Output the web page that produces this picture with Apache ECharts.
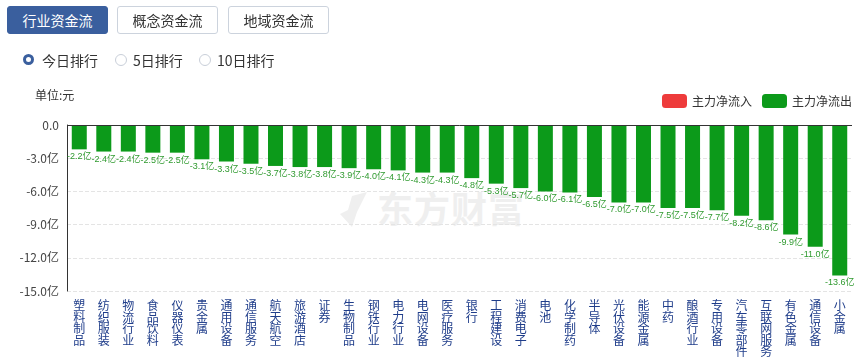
<!DOCTYPE html>
<html>
<head>
<meta charset="utf-8">
<script src="https://cdn.jsdelivr.net/npm/echarts@6/dist/echarts.min.js"></script>
<style>
  html,body{margin:0;padding:0;background:#fff;}
  body{width:866px;height:364px;position:relative;overflow:hidden;font-family:"Noto Sans CJK SC","Microsoft YaHei",sans-serif;}
  #wm{position:absolute;left:377px;top:185px;font-size:36px;line-height:44px;font-weight:bold;color:#efefef;white-space:nowrap;letter-spacing:1px;}
  #chart{position:absolute;left:0;top:0;width:866px;height:364px;}
  .btn{position:absolute;top:6px;height:26px;width:99px;border:1px solid #ccd3dd;border-radius:3px;font-size:14px;line-height:26px;text-align:center;color:#333;background:#fff;box-sizing:content-box;}
  .btn.on{background:#3a5f9e;border-color:#3a5f9e;color:#fff;}
  .radio{position:absolute;top:52px;font-size:14px;line-height:16px;color:#333;}
  .circ{position:absolute;width:10px;height:10px;border-radius:50%;border:1px solid #c8ced8;background:#fff;top:2px;}
  .circ.on{border:3.5px solid #3a5f9e;width:5px;height:5px;}
</style>
</head>
<body>
<div id="wm">东方财富</div>
<div id="chart"></div>
<div class="btn on" style="left:7px;">行业资金流</div>
<div class="btn" style="left:117px;">概念资金流</div>
<div class="btn" style="left:228px;">地域资金流</div>
<div class="radio" style="left:23px;"><span class="circ on" style="left:0;"></span><span style="position:absolute;left:19px;white-space:nowrap;">今日排行</span></div>
<div class="radio" style="left:115px;"><span class="circ" style="left:0;"></span><span style="position:absolute;left:18px;white-space:nowrap;">5日排行</span></div>
<div class="radio" style="left:199px;"><span class="circ" style="left:0;"></span><span style="position:absolute;left:18px;white-space:nowrap;">10日排行</span></div>
<script>
const categories = ['塑料制品','纺织服装','物流行业','食品饮料','仪器仪表','贵金属','通用设备','通信服务','航天航空','旅游酒店','证券','生物制品','钢铁行业','电力行业','电网设备','医疗服务','银行','工程建设','消费电子','电池','化学制药','半导体','光伏设备','能源金属','中药','酿酒行业','专用设备','汽车零部件','互联网服务','有色金属','通信设备','小金属'];
const outflow = [-2.2,-2.4,-2.4,-2.5,-2.5,-3.1,-3.3,-3.5,-3.7,-3.8,-3.8,-3.9,-4.0,-4.1,-4.3,-4.3,-4.8,-5.3,-5.7,-6.0,-6.1,-6.5,-7.0,-7.0,-7.5,-7.5,-7.7,-8.2,-8.6,-9.9,-11.0,-13.6];
const inflow = [];
const yTicks = { min: -15, max: 0, interval: 3 };
const seriesNames = ['主力净流入','主力净流出'];

const RED = '#ee3b3b', GREEN = '#0c9a1a';
const chart = echarts.init(document.getElementById('chart'), null, {renderer:'canvas'});
chart.setOption({
  animation: false,
  backgroundColor: 'transparent',
  textStyle: { fontFamily: '"Noto Sans CJK SC","Microsoft YaHei",sans-serif' },
  graphic: [
    { type:'text', left: 35, top: 89, style:{ text:'单位:元', fontSize:12, fill:'#333', fontFamily:'"Noto Sans CJK SC",sans-serif' } },
    { type:'polygon', z: 0, shape:{ points:[[352,196],[367,192],[357,212],[352,227],[340,214],[348,210]] }, style:{ fill:'#efefef' } }
  ],
  legend: {
    right: 9, top: 89,
    itemWidth: 25, itemHeight: 14, itemGap: 10,
    icon: 'roundRect',
    textStyle: { fontSize: 12, color: '#333' },
    data: seriesNames
  },
  grid: { left: 67, right: 14, top: 125, bottom: 73, containLabel: false },
  xAxis: {
    type: 'category',
    data: categories,
    position: 'bottom',
    axisLine: { show: false },
    axisTick: { show: false },
    axisLabel: {
      interval: 0,
      margin: 9,
      color: '#1f3d8a',
      fontSize: 12,
      lineHeight: 11.5,
      verticalAlign: 'top',
      formatter: v => v.split('').join('\n')
    }
  },
  yAxis: {
    type: 'value',
    min: yTicks.min, max: yTicks.max, interval: yTicks.interval,
    axisLine: { show: true, lineStyle: { color: '#333', width: 1 } },
    axisTick: { show: false },
    splitLine: { show: true, lineStyle: { color: '#e4e4e4', type: 'dashed' } },
    axisLabel: {
      color: '#444', fontSize: 12, margin: 8,
      formatter: v => v === 0 ? '0.0' : v.toFixed(1) + '亿'
    }
  },
  series: [
    {
      name: seriesNames[0], type: 'bar', stack: 's', data: inflow,
      itemStyle: { color: RED }, barWidth: 15
    },
    {
      name: seriesNames[1], type: 'bar', stack: 's', data: outflow,
      itemStyle: { color: GREEN }, barWidth: 15,
      label: {
        show: true, position: 'bottom', distance: 3,
        fontSize: 9, color: '#2f9a2f',
        fontFamily: '"Liberation Sans","Noto Sans CJK SC",sans-serif',
        formatter: p => p.value.toFixed(1) + '亿'
      },
      markLine: {
        silent: true, symbol: 'none', label: { show: false },
        lineStyle: { color: '#333', type: 'solid', width: 1 },
        data: [{ yAxis: 0 }]
      }
    }
  ]
});
</script>
</body>
</html>
